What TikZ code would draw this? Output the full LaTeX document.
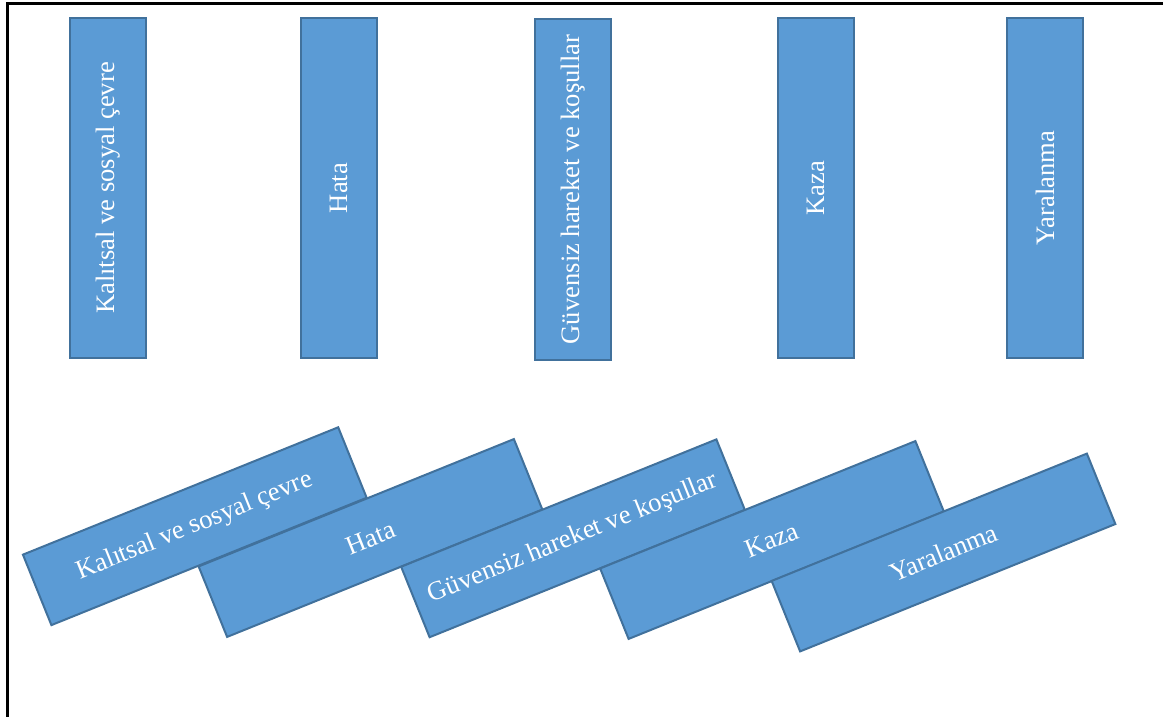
\documentclass[tikz,border=0pt]{standalone}
\usepackage{fontspec}
\setmainfont{Liberation Serif}
\definecolor{boxfill}{HTML}{5B9BD5}
\definecolor{boxline}{HTML}{41719C}
\tikzset{
  bar/.style={draw=boxline, fill=boxfill, line width=2pt, text=white,
    minimum width=340pt, minimum height=76pt, inner sep=0pt,
    font=\fontsize{26.6}{30}\selectfont},
  upbar/.style={bar, rotate=90},
  tiltbar/.style={bar, rotate=22},
  frameline/.style={line width=2.5pt, black}
}
\begin{document}
\begin{tikzpicture}[x=1pt,y=-1pt]
\useasboundingbox (0,0) rectangle (1163,717);
\coordinate (fb) at (7.5,717);
\coordinate (fc) at (7.5,3.5);
\coordinate (fr) at (1163,3.5);
\draw[frameline] (fb) -- (fc) -- (fr);
\node[upbar] (v1) at (108,188) {Kalıtsal ve sosyal çevre};
\node[upbar] (v2) at (339,188) {Hata};
\node[upbar] (v3) at (573,189.5) {Güvensiz hareket ve koşullar};
\node[upbar] (v4) at (816,188) {Kaza};
\node[upbar] (v5) at (1045,188) {Yaralanma};
\node[tiltbar] (t1) at (194.8,526.2) {Kalıtsal ve sosyal çevre};
\node[tiltbar] (t2) at (370.5,538) {Hata};
\node[tiltbar] (t3) at (573,538.3) {Güvensiz hareket ve koşullar};
\node[tiltbar] (t4) at (772,540) {Kaza};
\node[tiltbar] (t5) at (943.5,552.5) {Yaralanma};
\end{tikzpicture}
\end{document}
